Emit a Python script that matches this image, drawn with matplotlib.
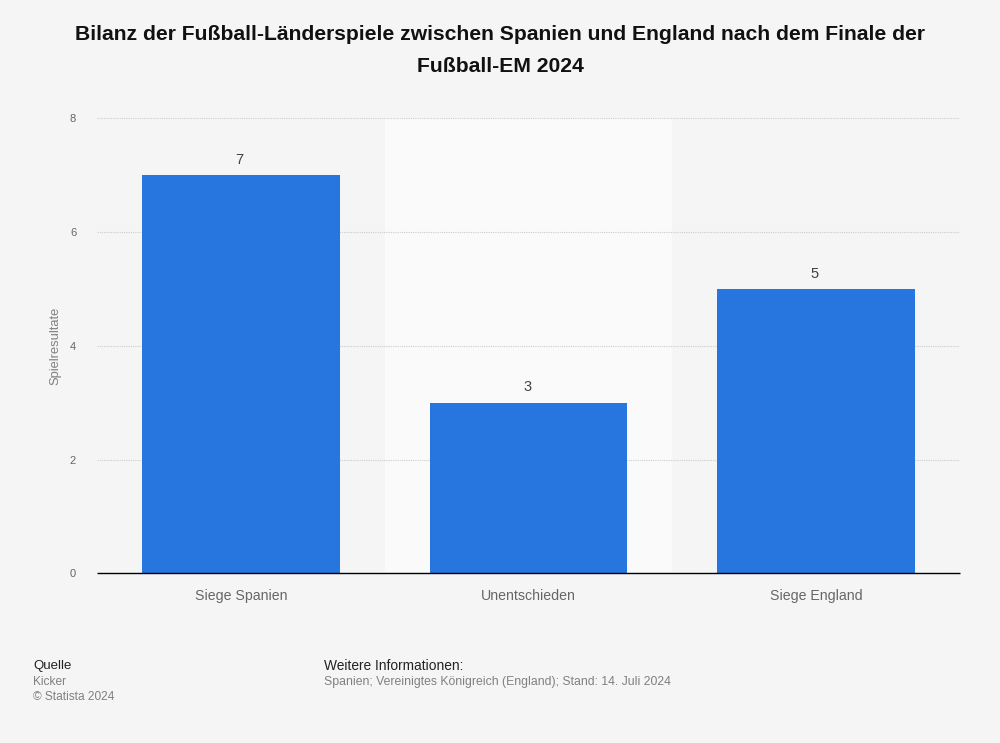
import matplotlib
matplotlib.use("Agg")
import matplotlib.pyplot as plt

categories = ["Siege Spanien", "Unentschieden", "Siege England"]
values = [7, 3, 5]
y_ticks = [0, 2, 4, 6, 8]

plt.rcParams['font.family'] = ['Liberation Sans', 'DejaVu Sans']

W, H = 1000, 743
fig = plt.figure(figsize=(W / 100, H / 100), dpi=100, facecolor="#f5f5f5")
# plot area in pixels: x 97-960, y 118-573
ax = fig.add_axes([97 / W, 1 - 573.4 / H, 863 / W, 455 / H], facecolor="none")

ax.axvspan(0.5, 1.5, color="#fafafa", zorder=0, lw=0)
bars = ax.bar(range(3), values, width=0.687, color="#2775de", zorder=3)
for i, v in enumerate(values):
    ax.annotate(str(v), (i, v), xytext=(-1, 6), textcoords="offset points",
                ha="center", va="bottom", fontsize=10.5, color="#404040", zorder=4)

ax.set_xlim(-0.5, 2.5)
ax.set_ylim(0, 8)
ax.set_yticks(y_ticks)
ax.set_xticks(range(3))
ax.set_xticklabels(categories)
ax.grid(axis="y", color="#cccccc", linestyle=(0, (1, 1)), linewidth=0.8, zorder=1)
ax.tick_params(axis="y", length=0, pad=15, labelsize=8, labelcolor="#666666")
ax.tick_params(axis="x", length=0, pad=11, labelsize=10.2, labelcolor="#666666")
for s in ["top", "left", "right"]:
    ax.spines[s].set_visible(False)
ax.spines["bottom"].set_color("#000000")
ax.spines["bottom"].set_linewidth(1.0)
ax.spines["bottom"].set_capstyle("butt")
ax.spines["bottom"].set_zorder(5)
ax.set_ylabel("Spielresultate", fontsize=9.3, color="#808080")
ax.yaxis.set_label_coords(-36 / 863, 0.5)

fig.text(500 / W, 1 - 34 / H, "Bilanz der Fußball-Länderspiele zwischen Spanien und England nach dem Finale der",
         ha="center", va="center", fontsize=15.2, fontweight="bold", color="#111111")
fig.text(500 / W, 1 - 66 / H, "Fußball-EM 2024",
         ha="center", va="center", fontsize=15.2, fontweight="bold", color="#111111")

fig.text(33 / W, 1 - 666 / H, "Quelle", ha="left", va="center", fontsize=9.5, color="#222222")
fig.text(33 / W, 1 - 682 / H, "Kicker", ha="left", va="center", fontsize=8.6, color="#808080")
fig.text(33 / W, 1 - 697 / H, "© Statista 2024", ha="left", va="center", fontsize=8.6, color="#808080")
fig.text(324 / W, 1 - 666 / H, "Weitere Informationen:", ha="left", va="center", fontsize=9.9, color="#222222")
fig.text(324 / W, 1 - 682 / H, "Spanien; Vereinigtes Königreich (England); Stand: 14. Juli 2024",
         ha="left", va="center", fontsize=8.8, color="#808080")

fig.savefig("out.png", dpi=100, facecolor=fig.get_facecolor())
